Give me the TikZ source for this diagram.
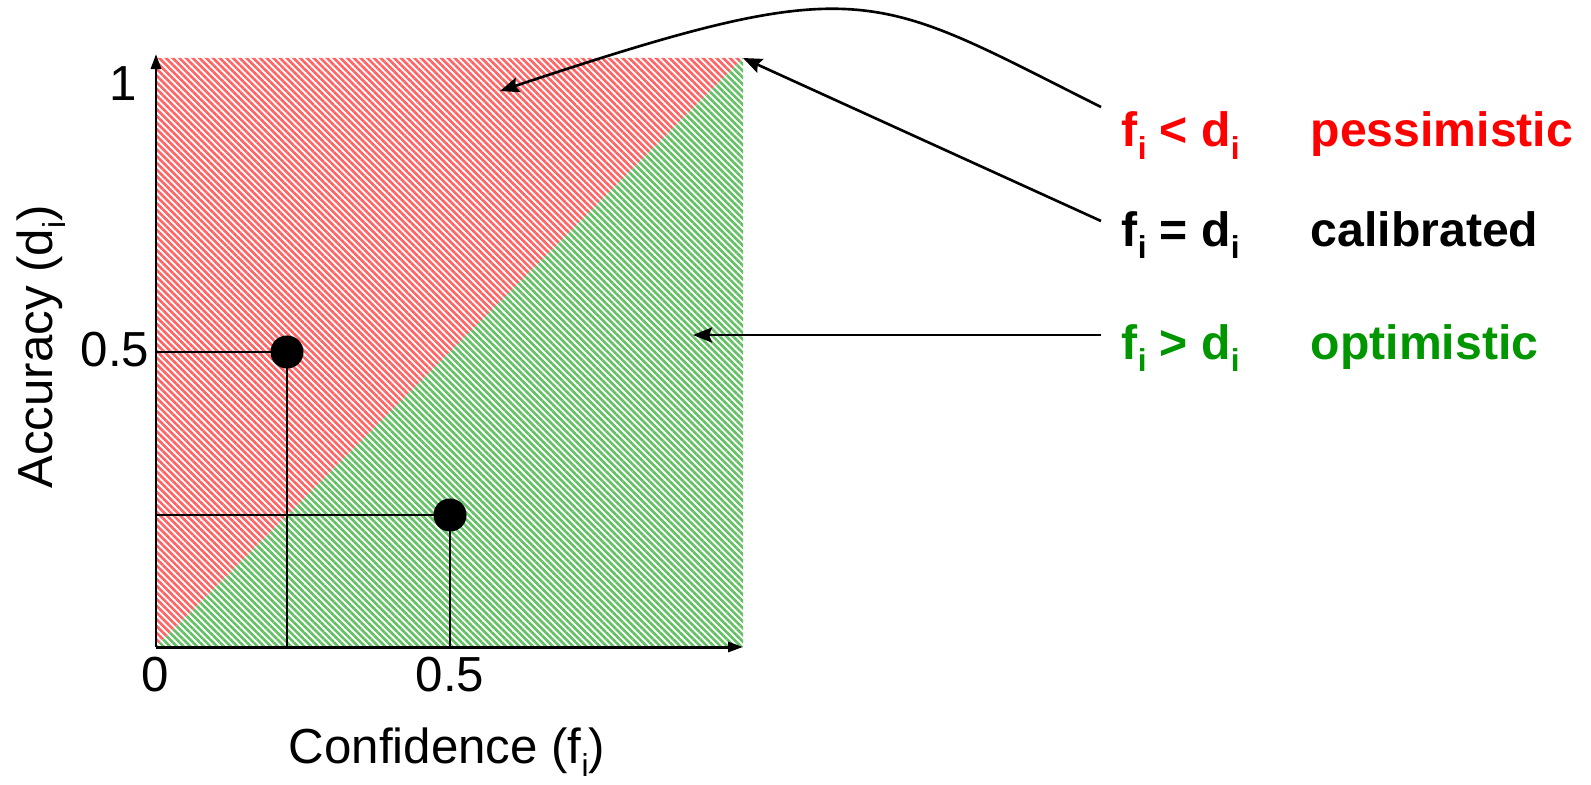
\documentclass[tikz,border=0pt]{standalone}
\usepackage{fontspec}
\setmainfont{Liberation Sans}
\usetikzlibrary{arrows.meta, patterns.meta, positioning, calc}
\definecolor{pessred}{RGB}{255,0,0}
\definecolor{optgreen}{RGB}{0,150,0}
\definecolor{hatchred}{RGB}{255,100,100}
\definecolor{hatchgreen}{RGB}{100,192,100}
\newcommand{\lowsub}[1]{\raisebox{-0.5ex}{\fontsize{9}{9}\selectfont #1}}

\begin{document}
\begin{tikzpicture}[x=0.01cm, y=-0.01cm,
    hatch/.style={pattern={Lines[angle=-45, distance=1.35pt, line width=0.75pt]},
                  pattern color=#1},
    axis/.style={line width=0.85pt, -{Triangle[length=0.15cm, width=0.1cm]}},
    guide/.style={line width=0.6pt},
    dot/.style={circle, fill=black, inner sep=0pt, minimum size=0.33cm},
    tick/.style={font=\fontsize{14}{16}\selectfont},
    cond/.style={anchor=base west, inner sep=0pt,
                 font=\fontsize{13.7}{16}\selectfont\bfseries, text=#1},
    pointer/.style={line width=0.75pt, -{Stealth[length=0.19cm, width=0.15cm, inset=0.03cm]}}
  ]
    \useasboundingbox (0,0) rectangle (1591,785);

    % corners of the square
    \coordinate (o) at (156,647);
    \coordinate (tl) at (156,58);
    \coordinate (tr) at (743,58);
    \coordinate (br) at (743,647);

    \fill[hatch=hatchred] (o) -- (tl) -- (tr) -- cycle;
    \fill[hatch=hatchgreen] (o) -- (tr) -- (br) -- cycle;

    \draw[axis] (o) -- ($(tl)+(0,-4)$);
    \draw[axis] (o) -- (br);

    \node[tick] (y1) at (123,84) {1};
    \node[tick] (yh) at (115,350) {0.5};
    \node[tick] (x0) at (155,675) {0};
    \node[tick] (xh) at (450,675) {0.5};
    \node[tick] (xl) at (447,752) {Confidence (f\lowsub{i})};
    \node[tick, rotate=90] (yl) at (41,347) {Accuracy (d\lowsub{i})};

    % the two example bins
    \coordinate (p1) at (287,352);
    \coordinate (p2) at (450,515);
    \draw[guide] (o |- p1) -- (p1) -- (p1 |- o);
    \draw[guide] (o |- p2) -- (p2) -- (p2 |- o);
    \node[dot] (d1) at (p1) {};
    \node[dot] (d2) at (p2) {};

    \node[cond=pessred] (pf) at (1121,147) {f\lowsub{i} < d\lowsub{i}};
    \node[cond=black]   (cf) at (1121,246) {f\lowsub{i} = d\lowsub{i}};
    \node[cond=optgreen] (of) at (1121,359) {f\lowsub{i} > d\lowsub{i}};
    \node[cond=pessred] (pw) at (1310,147) {pessimistic};
    \node[cond=black]   (cw) at (1310,246) {calibrated};
    \node[cond=optgreen] (ow) at (1310,359) {optimistic};

    \coordinate (ps) at (1101,107);
    \coordinate (cs) at (1101,221);
    \coordinate (os) at (1101,335);
    \coordinate (pt) at (500,91);
    \coordinate (ot) at (693,335);

    \draw[pointer] (ps) .. controls (871,-8) and (866,-31) .. (pt);
    \draw[pointer] (cs) -- (tr);
    \draw[pointer] (os) -- (ot);
  \end{tikzpicture}
\end{document}
